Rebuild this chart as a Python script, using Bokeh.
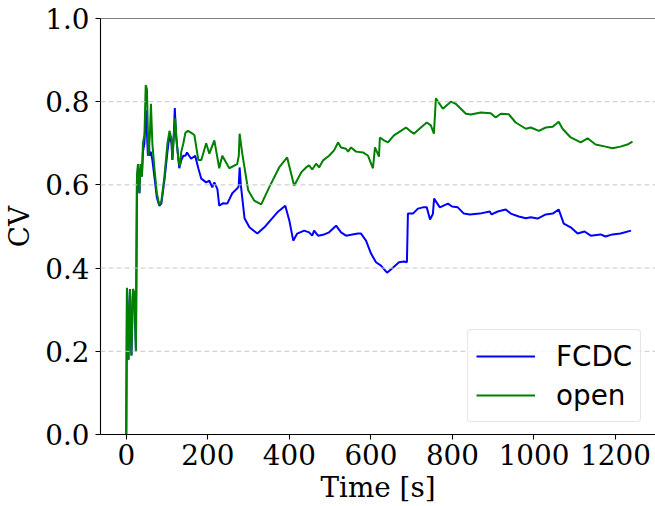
from bokeh.plotting import figure
from bokeh.models import Range1d, FixedTicker, PrintfTickFormatter, Span, Legend, LegendItem
from bokeh.embed import file_html
from bokeh.resources import INLINE

# ---- data ----
time_fcdc = [0, 1.7, 5.4, 9, 12.7, 16.4, 20, 23.7, 26.2, 28.6, 32.3, 34.8, 38.4, 40.9, 44.6, 48,
             51, 53, 55, 57, 60, 64, 69, 75, 81, 86, 93.5, 101, 106, 111, 113, 117, 119, 122,
             126, 130, 135, 140, 145, 149, 159, 169, 176.7, 184, 196, 203.7, 211, 216, 223.5,
             228, 238, 247.7, 260, 274.6, 276, 278, 281, 290, 302, 321.6, 338.7, 370.5, 390,
             400, 409.5, 419.3, 436.4, 448.5, 456, 460.6, 470.4, 482.7, 497.4, 514.6, 526.8,
             539, 551.4, 568.5, 575.8, 588, 600.3, 612.5, 624.7, 639.5, 654, 668.8, 681, 688.3,
             690.8, 703, 715.3, 727.6, 737, 745, 752, 755, 769, 789, 799, 813, 828, 842.7, 867,
             891.5, 896, 911, 930.8, 943, 962.7, 980, 992, 1009, 1029, 1046, 1060.5, 1073, 1090,
             1107, 1124, 1139, 1163, 1175.5, 1192.6, 1212, 1238]
cv_fcdc = [0.0, 0.35, 0.18, 0.35, 0.19, 0.34, 0.34, 0.20, 0.61, 0.64, 0.58, 0.64, 0.62, 0.68, 0.70, 0.78,
           0.72, 0.67, 0.72, 0.67, 0.68, 0.66, 0.62, 0.57, 0.55, 0.555, 0.61, 0.68, 0.72, 0.70, 0.66, 0.73, 0.785, 0.72,
           0.68, 0.64, 0.66, 0.67, 0.67, 0.678, 0.663, 0.67, 0.64, 0.615, 0.606, 0.61, 0.594, 0.606, 0.59,
           0.55, 0.556, 0.555, 0.58, 0.594, 0.60, 0.642, 0.60, 0.52, 0.498, 0.483, 0.498, 0.534, 0.55,
           0.514, 0.466, 0.483, 0.49, 0.486, 0.478, 0.49, 0.478, 0.48, 0.486, 0.502, 0.486,
           0.478, 0.48, 0.483, 0.483, 0.466, 0.435, 0.414, 0.406, 0.389, 0.401, 0.414, 0.416, 0.414,
           0.531, 0.531, 0.543, 0.546, 0.546, 0.517, 0.53, 0.567, 0.546, 0.555, 0.548, 0.546, 0.531, 0.529, 0.531,
           0.536, 0.529, 0.536, 0.541, 0.531, 0.524, 0.52, 0.522, 0.519, 0.529, 0.531, 0.541, 0.507, 0.498,
           0.483, 0.488, 0.478, 0.481, 0.476, 0.481, 0.483, 0.49]

time_open = [0, 1.7, 5.4, 9, 12.7, 16.4, 20, 23.7, 26.2, 28.6, 32.3, 34.8, 38.4, 40.9, 44.6, 47.7,
             50.7, 54.3, 58, 60.5, 64, 69, 75, 81, 86, 93.5, 101, 106, 111, 113, 117, 120, 124,
             128, 131.5, 135, 140, 145, 151.5, 159.6, 167, 176.7, 184, 196, 203.7, 216, 228,
             235.5, 252.6, 272, 276, 278, 284.5, 299, 314, 331, 350.5, 375, 394.6, 411.7, 429,
             441, 448.5, 456, 465.6, 473, 482.7, 497.4, 509.7, 519.5, 526.8, 539, 544, 551.4,
             563.6, 580.7, 593, 605, 610, 619.8, 622, 632, 641.8, 656.5, 673.6, 686, 695.7,
             705.5, 722.6, 737, 747, 754.5, 759.4, 776.5, 796, 808, 820.6, 833, 845, 869.5, 894,
             906, 918.5, 938, 955, 980, 992, 1012, 1029, 1046, 1060.5, 1070, 1090, 1114.5,
             1131.5, 1151, 1175.5, 1192.6, 1212, 1229, 1241.6]
cv_open = [0.0, 0.353, 0.18, 0.35, 0.19, 0.35, 0.34, 0.20, 0.62, 0.65, 0.58, 0.65, 0.62, 0.70, 0.72, 0.84,
           0.83, 0.67, 0.72, 0.795, 0.70, 0.64, 0.58, 0.552, 0.56, 0.62, 0.70, 0.73, 0.71, 0.66, 0.72, 0.76, 0.70,
           0.66, 0.645, 0.68, 0.70, 0.725, 0.73, 0.725, 0.72, 0.66, 0.66, 0.70, 0.675, 0.707, 0.64,
           0.67, 0.64, 0.65, 0.67, 0.723, 0.675, 0.587, 0.562, 0.553, 0.594, 0.642, 0.666, 0.598, 0.63,
           0.642, 0.647, 0.637, 0.651, 0.642, 0.659, 0.67, 0.683, 0.702, 0.69, 0.687, 0.68, 0.69,
           0.68, 0.678, 0.67, 0.64, 0.69, 0.668, 0.714, 0.707, 0.702, 0.719, 0.73, 0.738, 0.73,
           0.723, 0.738, 0.75, 0.743, 0.723, 0.808, 0.783, 0.80, 0.795, 0.783, 0.771, 0.769, 0.774, 0.772,
           0.762, 0.771, 0.77, 0.75, 0.735, 0.738, 0.73, 0.738, 0.74, 0.752, 0.735, 0.714, 0.702,
           0.712, 0.697, 0.692, 0.688, 0.692, 0.697, 0.704]

x_ticks = [0, 200, 400, 600, 800, 1000, 1200]
y_ticks = [0.0, 0.2, 0.4, 0.6, 0.8, 1.0]
grid_levels = [0.2, 0.4, 0.6, 0.8]
series_labels = ["FCDC", "open"]

SERIF = "DejaVu Serif"
SANS = "DejaVu Sans"
FS = "27.8px"

p = figure(width=655, height=506, output_backend="svg", toolbar_location=None,
           x_range=Range1d(-63.2, 1298), y_range=Range1d(0, 1),
           min_border_left=99, min_border_right=0, min_border_top=18, min_border_bottom=72)
p.outline_line_color = None
p.background_fill_color = "white"
p.border_fill_color = "white"

p.xgrid.grid_line_color = None
p.ygrid.grid_line_color = None

for g in grid_levels:
    p.add_layout(Span(location=g, dimension="width", line_color="#c8c8c8",
                      line_width=1, line_dash="5 3"))
p.add_layout(Span(location=1.0, dimension="width", line_color="black", line_width=1.1))

r1 = p.line(time_fcdc, cv_fcdc, line_color="#0000ff", line_width=2)
r2 = p.line(time_open, cv_open, line_color="#008000", line_width=2)

for ax in (p.xaxis[0], p.yaxis[0]):
    ax.axis_line_color = "black"
    ax.axis_line_width = 1.1
    ax.major_tick_line_color = "black"
    ax.major_tick_line_width = 1.1
    ax.major_tick_out = 5
    ax.major_tick_in = 0
    ax.minor_tick_line_color = None
    ax.major_label_text_font = SERIF
    ax.major_label_text_font_size = FS
    ax.major_label_text_color = "black"
    ax.axis_label_text_font = SERIF
    ax.axis_label_text_font_size = FS
    ax.axis_label_text_font_style = "normal"
    ax.axis_label_text_color = "black"

p.xaxis.ticker = FixedTicker(ticks=x_ticks)
p.yaxis.ticker = FixedTicker(ticks=y_ticks)
p.yaxis.formatter = PrintfTickFormatter(format="%.1f")
p.xaxis.axis_label = "Time [s]"
p.yaxis.axis_label = "CV"
p.xaxis.major_label_standoff = 4
p.xaxis.axis_label_standoff = 3
p.yaxis.major_label_standoff = 6
p.yaxis.axis_label_standoff = 6

legend = Legend(items=[LegendItem(label=series_labels[0], renderers=[r1]),
                       LegendItem(label=series_labels[1], renderers=[r2])],
                location=(367, 12))
legend.label_text_font = SANS
legend.label_text_font_size = FS
legend.label_text_color = "black"
legend.border_line_color = "#cccccc"
legend.border_line_width = 1
legend.background_fill_color = "white"
legend.background_fill_alpha = 0.8
legend.padding = 8
legend.spacing = 3
legend.margin = 0
legend.glyph_width = 59
legend.glyph_height = 36
legend.label_height = 36
legend.label_standoff = 21
if "border_radius" in Legend.properties():
    legend.border_radius = 4
p.add_layout(legend)

open("out.html", "w").write(file_html(p, INLINE))
